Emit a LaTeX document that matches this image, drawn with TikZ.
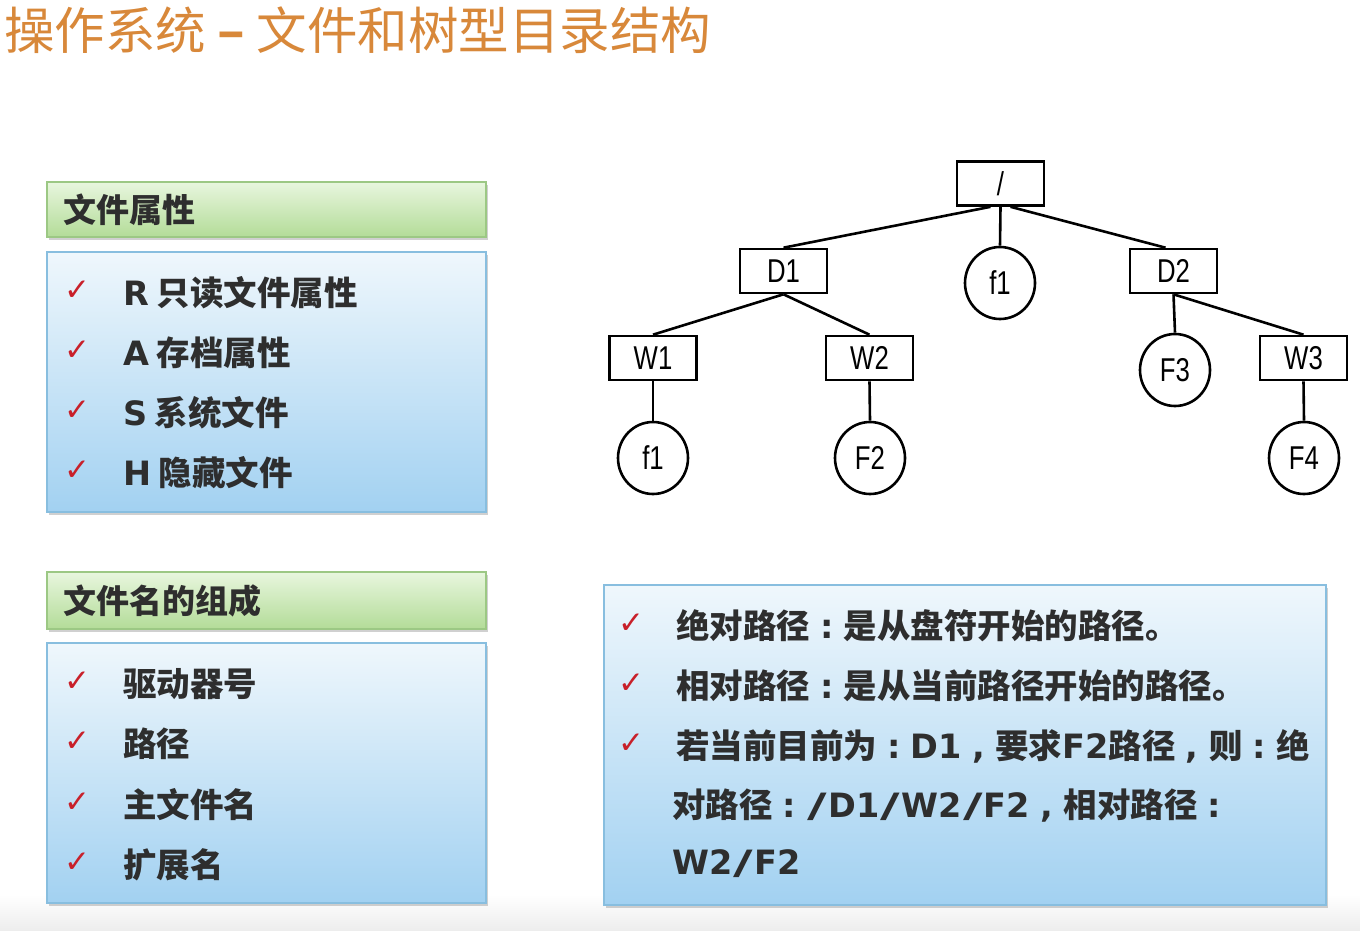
\documentclass[tikz,border=0pt]{standalone}
\usepackage{fontspec}
\setmainfont{Noto Sans CJK SC}
\newfontfamily\treefont[FakeStretch=0.78]{Liberation Sans}
\newfontfamily\symfont{DejaVu Sans}
\newfontfamily\latb{DejaVu Sans Bold}
\usetikzlibrary{shapes.geometric,shadows}
\definecolor{titleor}{HTML}{D8883A}
\definecolor{txt}{HTML}{2E2E2E}
\definecolor{grtop}{HTML}{E8F6DE}
\definecolor{grbot}{HTML}{B3DC98}
\definecolor{grline}{HTML}{9CC884}
\definecolor{bltop}{HTML}{EFF7FC}
\definecolor{blbot}{HTML}{A2D1F1}
\definecolor{blline}{HTML}{88BEDF}
\definecolor{chk}{HTML}{C8202A}
\definecolor{floorgray}{HTML}{EDEDED}
\newcommand{\fwc}{\makebox[1em]{\latb :}}
\newcommand{\fwm}{\makebox[1em]{\latb ,}}
\newcommand{\wsl}{\makebox[0.66em]{\latb\scalebox{1.6}[1]{/}}}
\tikzset{
  hdrbox/.style={draw=grline, line width=1.2pt, top color=grtop, bottom color=grbot,
    minimum width=439, minimum height=55, inner sep=0,
    drop shadow={shadow xshift=1.5pt, shadow yshift=-3pt, opacity=0.3, fill=black!60}},
  listbox/.style={draw=blline, line width=1.2pt, top color=bltop, bottom color=blbot,
    inner sep=0,
    drop shadow={shadow xshift=1.5pt, shadow yshift=-3pt, opacity=0.3, fill=black!60}},
  hdrtxt/.style={anchor=west, inner sep=0, text=txt, font=\bfseries\fontsize{33}{40}\selectfont},
  itemtxt/.style={anchor=west, inner sep=0, text=txt, font=\bfseries\fontsize{33.5}{40}\selectfont},
  ptxt/.style={anchor=west, inner sep=0, text=txt, font=\bfseries\fontsize{33.5}{40}\selectfont},
  tick/.style={inner sep=0, text=chk, font=\symfont\fontsize{31}{34}\selectfont},
  dirbox/.style={draw, line width=2.6pt, minimum width=87, minimum height=44, inner sep=0,
    font=\treefont\fontsize{33}{36}\selectfont},
  filecirc/.style={draw, ellipse, line width=2.6pt, minimum width=70, minimum height=72, inner sep=0,
    font=\treefont\fontsize{33}{36}\selectfont},
  edge/.style={line width=2.6pt}
}
\begin{document}
\begin{tikzpicture}[x=1pt,y=-1pt]
\useasboundingbox[fill=white] (0,0) rectangle (1360,930);
\shade[top color=white, bottom color=floorgray] (0,895) rectangle (1360,930);

% title
\node[anchor=west, inner sep=0, text=titleor, font=\fontsize{50.5}{58}\selectfont] (title) at (4,30)
  {操作系统 {\bfseries –} 文件和树型目录结构};

% left panel 1
\node[hdrbox] (h1) at (266.5,209.5) {};
\node[hdrtxt] (h1t) at (63,209.5) {文件属性};
\node[listbox, minimum width=439, minimum height=260] (b1) at (266.5,382) {};
\node[tick] (c11) at (77,291) {✓};
\node[tick] (c12) at (77,351) {✓};
\node[tick] (c13) at (77,411) {✓};
\node[tick] (c14) at (77,471) {✓};
\node[itemtxt] (t11) at (123,293) {{\latb R} 只读文件属性};
\node[itemtxt] (t12) at (123,353) {{\latb A} 存档属性};
\node[itemtxt] (t13) at (123,413) {{\latb S} 系统文件};
\node[itemtxt] (t14) at (123,473) {{\latb H} 隐藏文件};

% left panel 2
\node[hdrbox, minimum height=57] (h2) at (266.5,600.5) {};
\node[hdrtxt] (h2t) at (63,600.5) {文件名的组成};
\node[listbox, minimum width=439, minimum height=260] (b2) at (266.5,773) {};
\node[tick] (c21) at (77,682) {✓};
\node[tick] (c22) at (77,742) {✓};
\node[tick] (c23) at (77,803) {✓};
\node[tick] (c24) at (77,863) {✓};
\node[itemtxt] (t21) at (123,684) {驱动器号};
\node[itemtxt] (t22) at (123,744) {路径};
\node[itemtxt] (t23) at (123,805) {主文件名};
\node[itemtxt] (t24) at (123,865) {扩展名};

% right panel
\node[listbox, minimum width=722, minimum height=320] (b3) at (965,745) {};
\node[tick] (c31) at (631,624) {✓};
\node[tick] (c32) at (631,684) {✓};
\node[tick] (c33) at (631,744) {✓};
\node[ptxt] (p1) at (676,626) {绝对路径\fwc 是从盘符开始的路径。};
\node[ptxt] (p2) at (676,686) {相对路径\fwc 是从当前路径开始的路径。};
\node[ptxt] (p3) at (676,746) {若当前目前为\fwc{\latb D1}\fwm 要求{\latb F2}路径\fwm 则\fwc 绝};
\node[ptxt] (p4) at (672,806) {对路径\fwc{\latb\wsl D1\wsl W2\wsl F2}\fwm 相对路径\fwc};
\node[ptxt] (p5) at (672,864) {{\latb W2\wsl F2}};

% tree
\node[dirbox] (root) at (1000.5,183.5) {/};
\node[dirbox] (D1) at (783.5,271) {D1};
\node[filecirc] (fa) at (1000,283) {f1};
\node[dirbox] (D2) at (1173.5,271) {D2};
\node[dirbox] (W1) at (653,358) {W1};
\node[dirbox] (W2) at (869.5,358) {W2};
\node[filecirc] (F3) at (1175,370) {F3};
\node[dirbox] (W3) at (1303.5,358) {W3};
\node[filecirc] (fb) at (653,458) {f1};
\node[filecirc] (F2) at (870,458) {F2};
\node[filecirc] (F4) at (1304,458) {F4};

\draw[edge] ([xshift=-10pt]root.south) -- (D1.north);
\draw[edge] (root.south) -- (fa.north);
\draw[edge] ([xshift=10pt]root.south) -- ([xshift=-8pt]D2.north);
\draw[edge] (D1.south) -- (W1.north);
\draw[edge] (D1.south) -- (W2.north);
\draw[edge] (D2.south) -- (F3.north);
\draw[edge] (D2.south) -- (W3.north);
\draw[edge] (W1.south) -- (fb.north);
\draw[edge] (W2.south) -- (F2.north);
\draw[edge] (W3.south) -- (F4.north);
\end{tikzpicture}
\end{document}
